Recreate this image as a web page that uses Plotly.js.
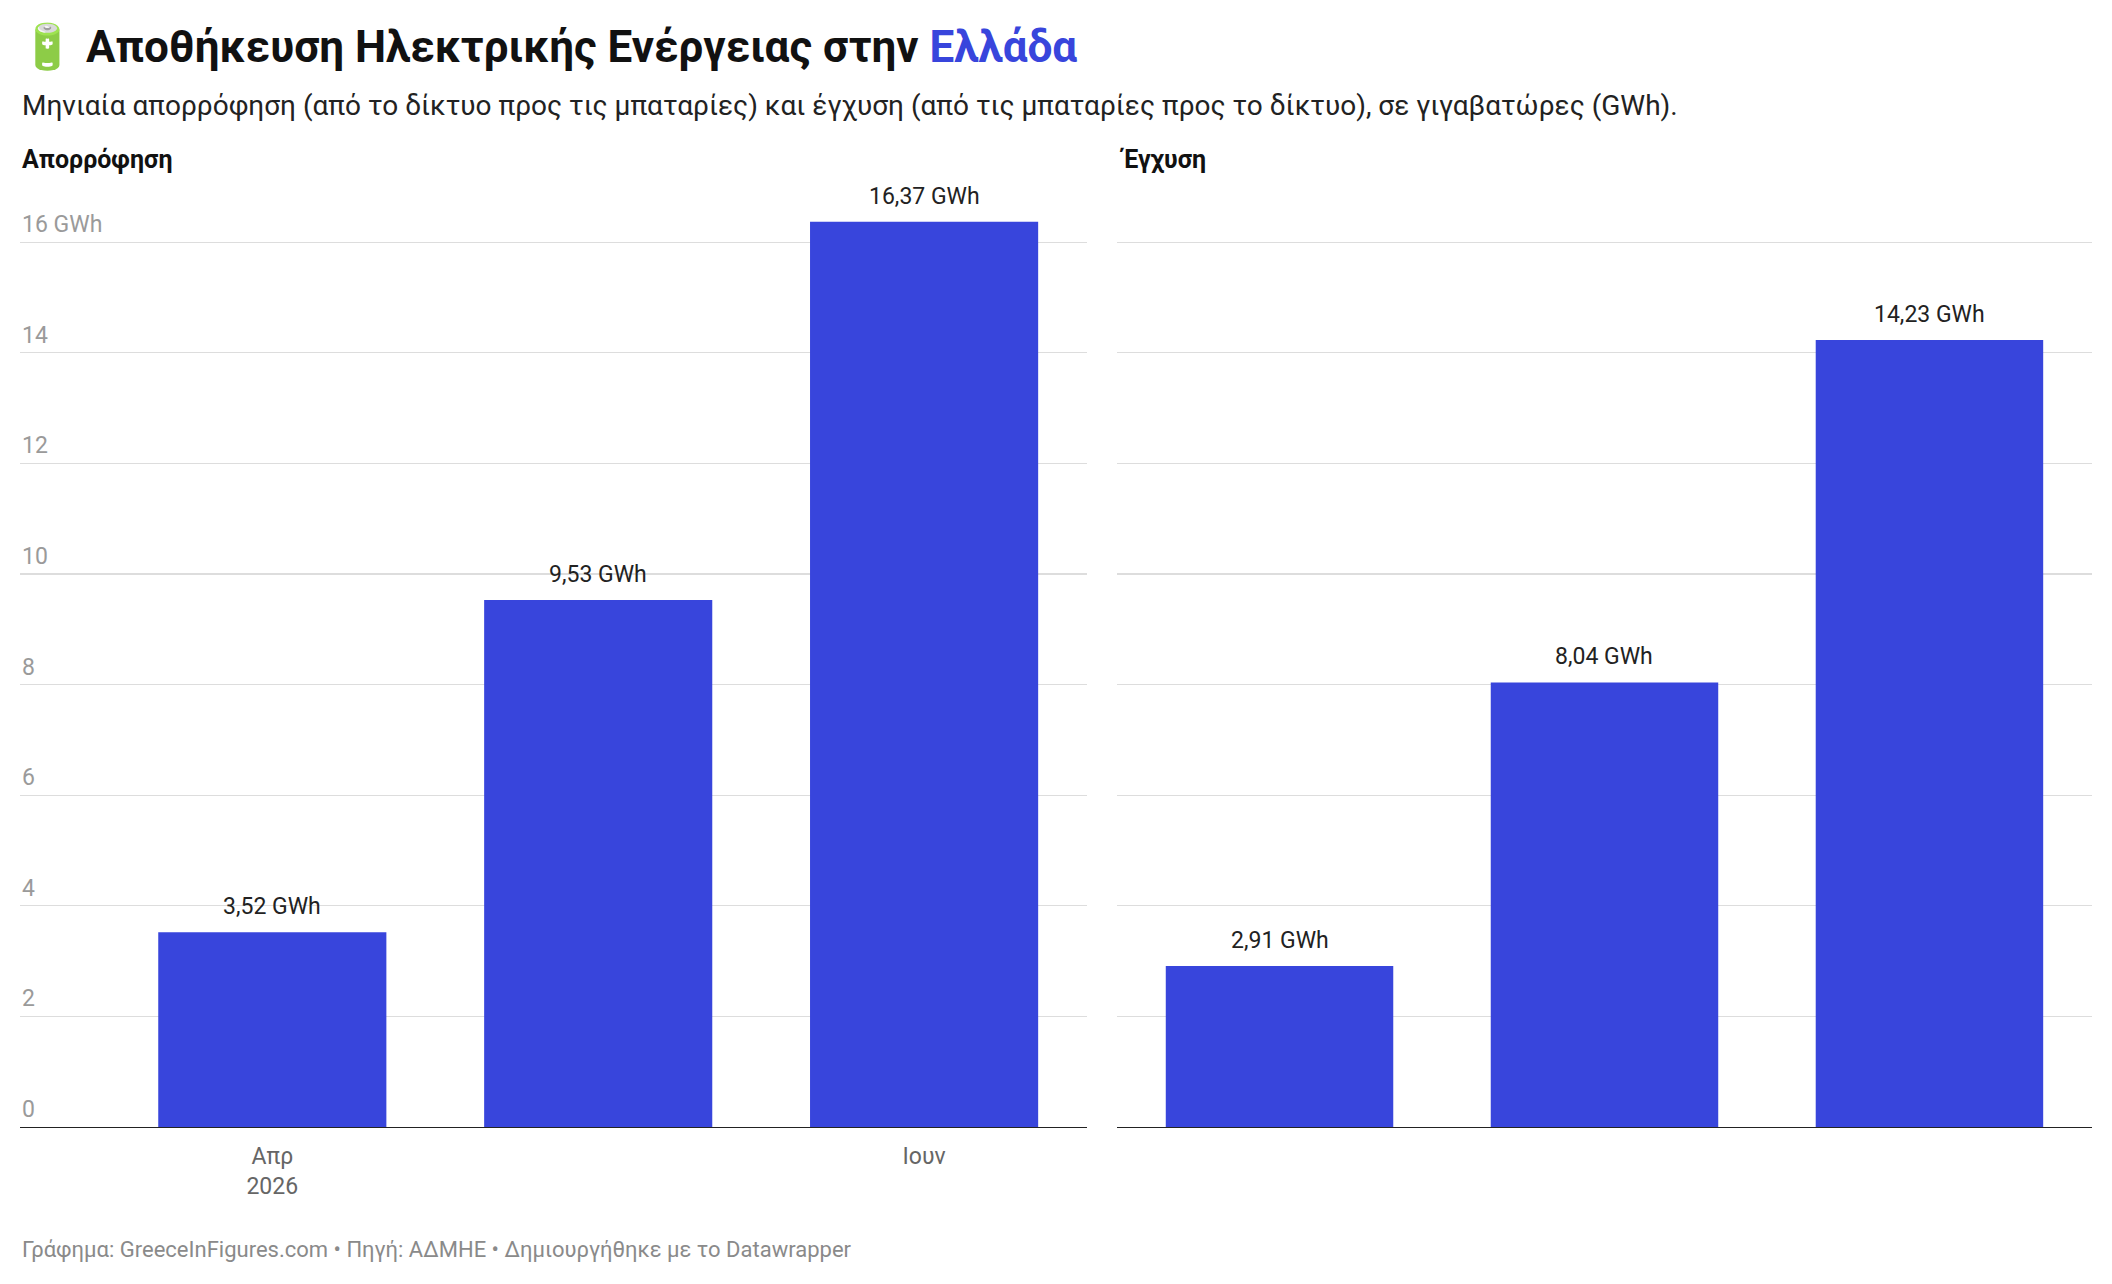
<!DOCTYPE html>
<html>
<head>
<meta charset="utf-8">
<script src="https://cdn.plot.ly/plotly-3.0.1.min.js"></script>
<style>body{margin:0;background:#fff}#graphDiv{width:2112px;height:1284px}</style>
</head>
<body>
<div id="graphDiv"></div>
<script>
// chart data
let months = ['Απρ<br>2026', 'Μάι', 'Ιουν'];
let tickLabels = ['Απρ<br>2026', '', 'Ιουν'];
let absorption = [3.52, 9.53, 16.37];
let injection = [2.91, 8.04, 14.23];
let yTicks = [0, 2, 4, 6, 8, 10, 12, 14, 16];
let yTickText = ['0', '2', '4', '6', '8', '10', '12', '14', '16 GWh'];

const barColor = '#3845dc';
const font = 'Roboto, "Noto Sans", sans-serif';

function fmt(v) {
    return v.toFixed(2).replace('.', ',') + ' GWh';
}

function init() {
    let graphDiv = document.getElementById('graphDiv');
    let xs = months.map((m, i) => i);

    let data = [
        {x: xs, y: absorption, type: 'bar', xaxis: 'x', yaxis: 'y', width: 0.7,
         marker: {color: barColor}, hoverinfo: 'none'},
        {x: xs, y: injection, type: 'bar', xaxis: 'x2', yaxis: 'y2', width: 0.7,
         marker: {color: barColor}, hoverinfo: 'none'}
    ];

    let yax = {range: [0, 17], tickvals: yTicks, showticklabels: false, gridcolor: '#dddddd',
               gridwidth: 1.3, zeroline: false, fixedrange: true};
    let annotations = [
        {text: '<b>Απορρόφηση</b>', xref: 'paper', yref: 'paper', x: 0.0095, y: 0.876, xanchor: 'left', yanchor: 'middle',
         showarrow: false, font: {family: font, size: 25, color: '#111'}},
        {text: '<b>Έγχυση</b>', xref: 'paper', yref: 'paper', x: 0.5289, y: 0.876, xanchor: 'left', yanchor: 'middle',
         showarrow: false, font: {family: font, size: 25, color: '#111'}},
        {text: 'Γράφημα: GreeceInFigures.com • Πηγή: ΑΔΜΗΕ • Δημιουργήθηκε με το Datawrapper', xref: 'paper', yref: 'paper',
         x: 0.0095, y: 0.027, xanchor: 'left', yanchor: 'middle', showarrow: false, font: {family: font, size: 22, color: '#8a8a8a'}},
        {text: 'Μηνιαία απορρόφηση (από το δίκτυο προς τις μπαταρίες) και έγχυση (από τις μπαταρίες προς το δίκτυο), σε γιγαβατώρες (GWh).',
         xref: 'paper', yref: 'paper', x: 0.0095, y: 0.918, xanchor: 'left', yanchor: 'middle', showarrow: false,
         font: {family: font, size: 28, color: '#222'}}
    ];
    yTicks.forEach((v, i) => {
        annotations.push({text: yTickText[i], xref: 'paper', yref: 'y', x: 0.0095, y: v, xanchor: 'left', yanchor: 'bottom',
            yshift: 2, showarrow: false, font: {family: font, size: 23, color: '#9a9a9a'}});
    });
    // value labels above bars
    [[absorption, 'x', 'y'], [injection, 'x2', 'y2']].forEach(([vals, xr, yr]) => {
        vals.forEach((v, i) => {
            annotations.push({text: fmt(v), xref: xr, yref: yr, x: i, y: v, xanchor: 'center', yanchor: 'bottom',
                yshift: 10, showarrow: false, font: {family: font, size: 23, color: '#222'}});
        });
    });

    let layout = {
        width: 2112, height: 1284,
        margin: {l: 0, r: 0, t: 0, b: 0},
        paper_bgcolor: '#fff', plot_bgcolor: '#fff',
        showlegend: false,
        title: {text: '🔋 <b>Αποθήκευση Ηλεκτρικής Ενέργειας στην <span style="color:#3845dc">Ελλάδα</span></b>',
                x: 0.0095, xanchor: 'left', y: 0.964, yanchor: 'middle',
                font: {family: font, size: 44, color: '#111'}},
        xaxis: {domain: [0.0095, 0.5147], range: [-0.774, 2.5], tickvals: xs, ticktext: tickLabels,
                showgrid: false, zeroline: false, showline: true, linecolor: '#222', linewidth: 1.5,
                ticks: '', ticklabelstandoff: 8, tickfont: {family: font, size: 23, color: '#666'}, fixedrange: true},
        xaxis2: {domain: [0.5289, 0.9905], range: [-0.5, 2.5], showticklabels: false,
                 showgrid: false, zeroline: false, showline: true, linecolor: '#222', linewidth: 1.5,
                 ticks: '', fixedrange: true},
        yaxis: Object.assign({domain: [0.1223, 0.8544], anchor: 'x'}, yax),
        yaxis2: Object.assign({domain: [0.1223, 0.8544], anchor: 'x2'}, yax),
        annotations: annotations
    };

    Plotly.newPlot(graphDiv, data, layout, {displayModeBar: false, staticPlot: true});
}
init();
</script>
</body>
</html>
